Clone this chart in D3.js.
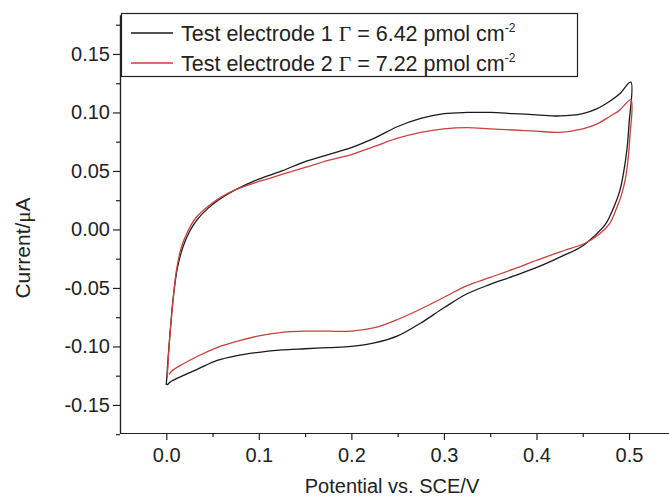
<!DOCTYPE html>
<html>
<head>
<meta charset="utf-8">
<script src="https://cdn.jsdelivr.net/npm/d3@7/dist/d3.min.js"></script>
<style>
  html, body { margin: 0; padding: 0; background: #fff; }
  svg { display: block; }
  text { font-family: "Liberation Sans", Arial, sans-serif; fill: #222; }
</style>
</head>
<body>
<svg id="chart" width="669" height="499"></svg>
<script>
// Cyclic voltammograms: forward scan 0 → 0.5 V, then reverse 0.5 → 0 V.
const electrode1Potential = [
  0.000, 0.002, 0.005, 0.008, 0.012, 0.018, 0.025, 0.033, 0.045, 0.058,
  0.075, 0.100, 0.125, 0.150, 0.175, 0.200, 0.225, 0.250, 0.275, 0.300,
  0.325, 0.350, 0.375, 0.400, 0.425, 0.450, 0.465, 0.480, 0.490, 0.502,
  0.500, 0.498, 0.494, 0.490, 0.483, 0.475, 0.462, 0.448, 0.430, 0.405,
  0.375, 0.350, 0.325, 0.300, 0.275, 0.250, 0.225, 0.200, 0.175, 0.150,
  0.125, 0.100, 0.075, 0.055, 0.035, 0.018, 0.005, 0.001
];
const electrode1Current = [
  -0.133, -0.110, -0.080, -0.055, -0.033, -0.015, -0.002, 0.008, 0.018, 0.026,
  0.034, 0.043, 0.050, 0.058, 0.064, 0.070, 0.078, 0.088, 0.095, 0.099,
  0.100, 0.100, 0.099, 0.098, 0.097, 0.099, 0.103, 0.110, 0.116, 0.126,
  0.090, 0.070, 0.048, 0.033, 0.018, 0.005, -0.006, -0.015, -0.022, -0.031,
  -0.040, -0.047, -0.055, -0.067, -0.080, -0.091, -0.097, -0.100, -0.101, -0.102,
  -0.103, -0.105, -0.108, -0.112, -0.119, -0.125, -0.130, -0.133
];
const electrode2Potential = [
  0.001, 0.003, 0.005, 0.008, 0.011, 0.016, 0.023, 0.032, 0.044, 0.058,
  0.075, 0.100, 0.125, 0.150, 0.175, 0.200, 0.225, 0.250, 0.275, 0.300,
  0.325, 0.350, 0.375, 0.400, 0.425, 0.450, 0.465, 0.480, 0.490, 0.502,
  0.501, 0.499, 0.496, 0.492, 0.486, 0.479, 0.468, 0.452, 0.430, 0.405,
  0.375, 0.350, 0.325, 0.300, 0.275, 0.250, 0.225, 0.200, 0.175, 0.150,
  0.125, 0.100, 0.075, 0.055, 0.035, 0.018, 0.006, 0.003
];
const electrode2Current = [
  -0.127, -0.100, -0.080, -0.055, -0.035, -0.016, -0.002, 0.010, 0.019, 0.027,
  0.034, 0.041, 0.047, 0.053, 0.059, 0.064, 0.071, 0.078, 0.083, 0.086,
  0.087, 0.086, 0.085, 0.084, 0.083, 0.086, 0.090, 0.097, 0.102, 0.111,
  0.080, 0.060, 0.043, 0.030, 0.017, 0.005, -0.004, -0.012, -0.018, -0.025,
  -0.034, -0.041, -0.048, -0.058, -0.068, -0.077, -0.084, -0.087, -0.087, -0.087,
  -0.088, -0.091, -0.096, -0.101, -0.108, -0.115, -0.121, -0.124
];

const seriesNames = ["Test electrode 1", "Test electrode 2"];
const seriesCoverage = ["6.42", "7.22"];
const seriesColors = ["#1a1a1a", "#c8413c"];

const xMajorTicks = [0.0, 0.1, 0.2, 0.3, 0.4, 0.5];
const xMinorTicks = [0.05, 0.15, 0.25, 0.35, 0.45, 0.55];
const yMajorTicks = [-0.15, -0.10, -0.05, 0.00, 0.05, 0.10, 0.15];
const yMinorTicks = [-0.175, -0.125, -0.075, -0.025, 0.025, 0.075, 0.125, 0.175];

const xTitle = "Potential vs. SCE/V";

const svg = d3.select("#chart");

const x = d3.scaleLinear().domain([-0.05, 0.5432]).range([120, 669]);
const y = d3.scaleLinear().domain([-0.174, 0.1833]).range([433, 15]);

// Axes
const gx = svg.append("g").attr("transform", `translate(0,${y(-0.174)})`);
gx.call(d3.axisBottom(x).tickValues(xMajorTicks).tickSize(7).tickSizeOuter(0)
  .tickPadding(8).tickFormat(d => d.toFixed(1)));
gx.append("g").call(d3.axisBottom(x).tickValues(xMinorTicks).tickSize(4)
  .tickSizeOuter(0).tickFormat(""));

const gy = svg.append("g").attr("transform", `translate(${x(-0.05)},0)`);
gy.call(d3.axisLeft(y).tickValues(yMajorTicks).tickSize(7).tickSizeOuter(0)
  .tickPadding(3).tickFormat(d => d.toFixed(2)));
gy.append("g").call(d3.axisLeft(y).tickValues(yMinorTicks).tickSize(4)
  .tickSizeOuter(0).tickFormat(""));

svg.selectAll(".domain").attr("stroke", "#222").attr("stroke-width", 1.2);
svg.selectAll(".tick line").attr("stroke", "#222").attr("stroke-width", 1.2);
svg.selectAll(".tick text")
  .style("font-family", "'Liberation Sans', Arial, sans-serif")
  .style("font-size", "20px").attr("fill", "#222");

// Axis titles
svg.append("text")
  .attr("x", 392).attr("y", 493)
  .attr("text-anchor", "middle")
  .style("font-size", "20px")
  .text(xTitle);

const yTitle = svg.append("text")
  .attr("transform", "translate(30,248) rotate(-90)")
  .attr("text-anchor", "middle")
  .style("font-size", "21px");
yTitle.append("tspan").text("Current/");
yTitle.append("tspan").style("font-family", "'Liberation Serif', serif").text("μ");
yTitle.append("tspan").text("A");

// Curves
const line = d3.line()
  .x(d => x(d[0]))
  .y(d => y(d[1]))
  .curve(d3.curveCatmullRom.alpha(0.5));

const series = [
  d3.zip(electrode1Potential, electrode1Current),
  d3.zip(electrode2Potential, electrode2Current)
];

svg.append("g").selectAll("path")
  .data(series)
  .join("path")
  .attr("d", line)
  .attr("fill", "none")
  .attr("stroke", (d, i) => seriesColors[i])
  .attr("stroke-width", 1.3)
  .attr("stroke-linejoin", "round");

// Legend
const legend = svg.append("g");
legend.append("rect")
  .attr("x", 121.5).attr("y", 13.5).attr("width", 456).attr("height", 63)
  .attr("fill", "#fff").attr("stroke", "#222").attr("stroke-width", 1.2);

seriesNames.forEach((name, i) => {
  const cy = 33 + i * 30;
  legend.append("line")
    .attr("x1", 131).attr("x2", 173).attr("y1", cy).attr("y2", cy)
    .attr("stroke", seriesColors[i]).attr("stroke-width", 1.3);
  const t = legend.append("text")
    .attr("x", 181).attr("y", cy + 7.5)
    .style("font-size", "21.5px");
  t.append("tspan").text(name + " ");
  t.append("tspan").style("font-family", "'Liberation Serif', serif").text("Γ");
  t.append("tspan").text(" = " + seriesCoverage[i] + " pmol cm");
  t.append("tspan").attr("dy", -9).style("font-size", "12px").text("-2");
});
</script>
</body>
</html>
